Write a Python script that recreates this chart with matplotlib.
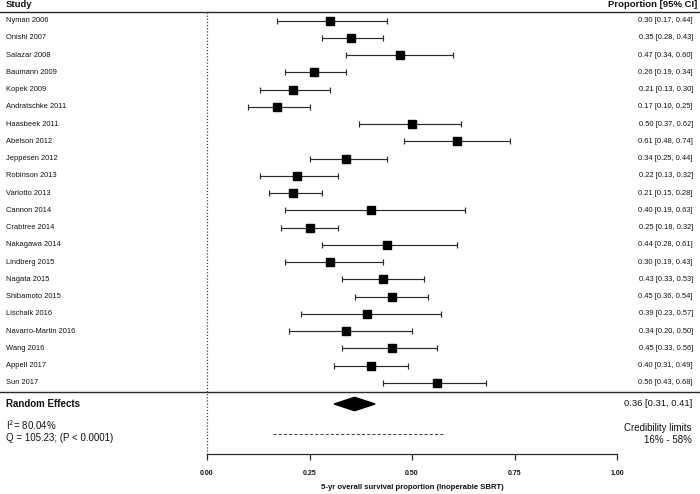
import numpy as np
import matplotlib
matplotlib.use("Agg")
import matplotlib.pyplot as plt
import matplotlib.transforms as mtransforms
from matplotlib.patches import Polygon

matplotlib.rc("font", family="Liberation Sans")

studies = ["Nyman 2006", "Onishi 2007", "Salazar 2008", "Baumann 2009", "Kopek 2009",
           "Andratschke 2011", "Haasbeek 2011", "Abelson 2012", "Jeppesen 2012",
           "Robinson 2013", "Varlotto 2013", "Cannon 2014", "Crabtree 2014",
           "Nakagawa 2014", "Lindberg 2015", "Nagata 2015", "Shibamoto 2015",
           "Lischalk 2016", "Navarro-Martin 2016", "Wang 2016", "Appell 2017", "Sun 2017"]
est = [0.30, 0.35, 0.47, 0.26, 0.21, 0.17, 0.50, 0.61, 0.34, 0.22, 0.21,
       0.40, 0.25, 0.44, 0.30, 0.43, 0.45, 0.39, 0.34, 0.45, 0.40, 0.56]
lo = [0.17, 0.28, 0.34, 0.19, 0.13, 0.10, 0.37, 0.48, 0.25, 0.13, 0.15,
      0.19, 0.18, 0.28, 0.19, 0.33, 0.36, 0.23, 0.20, 0.33, 0.31, 0.43]
hi = [0.44, 0.43, 0.60, 0.34, 0.30, 0.25, 0.62, 0.74, 0.44, 0.32, 0.28,
      0.63, 0.32, 0.61, 0.43, 0.53, 0.54, 0.57, 0.50, 0.56, 0.49, 0.68]

re_est, re_lo, re_hi = 0.36, 0.31, 0.41
cred_lo, cred_hi = 0.16, 0.58
i2_text = "I$^2$= 80.04%"
q_text = "Q = 105.23; (P < 0.0001)"
xticks = [0.0, 0.25, 0.5, 0.75, 1.0]
xlabel = "5-yr overall survival proportion (Inoperable SBRT)"

fig = plt.figure(figsize=(7, 4.94), dpi=100)
ax = fig.add_axes([207 / 700, 40 / 494, 410 / 700, 454 / 494])
ax.set_xlim(0, 1)
ax.set_ylim(25.13, -1.2)

rows = np.arange(len(studies))
dark = "#2a2a2a"
txt = "#111111"
est = np.array(est)
lo = np.array(lo)
hi = np.array(hi)
ax.errorbar(est, rows, xerr=[est - lo, hi - est], fmt="none", ecolor=dark,
            elinewidth=0.85, capsize=2.2, capthick=0.85)
ax.plot(est, rows, "s", color="black", markersize=5.6)

# summary diamond
y_re = 22.23
dh = 0.39
ax.add_patch(Polygon([[re_lo, y_re], [re_est, y_re - dh], [re_hi, y_re], [re_est, y_re + dh]],
                     closed=True, color="black"))
ax.plot([cred_lo, cred_hi], [23.97, 23.97], color="#444444", lw=0.75, ls=(0, (3, 2)))

# reference line at 0
ax.plot([0, 0], [-0.49, 25.13], color="#333333", lw=0.85, ls=":", clip_on=False)

trans = mtransforms.blended_transform_factory(fig.transFigure, ax.transData)
for y in [-0.49, 21.54]:
    ax.plot([0, 1], [y, y], color=dark, lw=1.0, transform=trans, clip_on=False)

ax.text(6 / 700, -0.93, "Study", transform=trans, ha="left", va="center",
        fontsize=6.8, fontweight="bold", color=txt)
ax.text(697 / 700, -0.93, "Proportion [95% CI]", transform=trans, ha="right", va="center",
        fontsize=6.8, fontweight="bold", color=txt)
for i in range(len(studies)):
    ax.text(6 / 700, rows[i], studies[i], transform=trans, ha="left", va="center",
            fontsize=5.4, color=txt)
    ax.text(693 / 700, rows[i], "{:.2f} [{:.2f}, {:.2f}]".format(est[i], lo[i], hi[i]),
            transform=trans, ha="right", va="center", fontsize=5.4, color=txt)

ax.text(6 / 700, y_re, "Random Effects", transform=trans, ha="left", va="center",
        fontsize=7, fontweight="bold", color=txt)
ax.text(692 / 700, y_re, "{:.2f} [{:.2f}, {:.2f}]".format(re_est, re_lo, re_hi),
        transform=trans, ha="right", va="center", fontsize=6.8, color=txt)
ax.text(6 / 700, 23.45, i2_text, transform=trans, ha="left", va="center",
        fontsize=7, color=txt)
ax.text(6 / 700, 24.2, q_text, transform=trans, ha="left", va="center",
        fontsize=7, color=txt)
ax.text(692 / 700, 23.6, "Credibility limits", transform=trans, ha="right", va="center",
        fontsize=7, color=txt)
ax.text(692 / 700, 24.3, "{:.0f}% - {:.0f}%".format(cred_lo * 100, cred_hi * 100),
        transform=trans, ha="right", va="center", fontsize=7, color=txt)

for s in ["top", "right", "left"]:
    ax.spines[s].set_visible(False)
ax.spines["bottom"].set_color(dark)
ax.spines["bottom"].set_linewidth(0.9)
ax.set_yticks([])
ax.set_xticks(xticks)
ax.set_xticklabels(["{:.2f}".format(t) for t in xticks], fontsize=5, fontweight="bold",
                   color=txt)
ax.tick_params(axis="x", direction="out", length=4, width=0.9, color=dark, pad=7.5)
ax.set_xlabel(xlabel, fontsize=5.6, fontweight="bold", color=txt, labelpad=5)

fig.savefig("out.png", dpi=100)
